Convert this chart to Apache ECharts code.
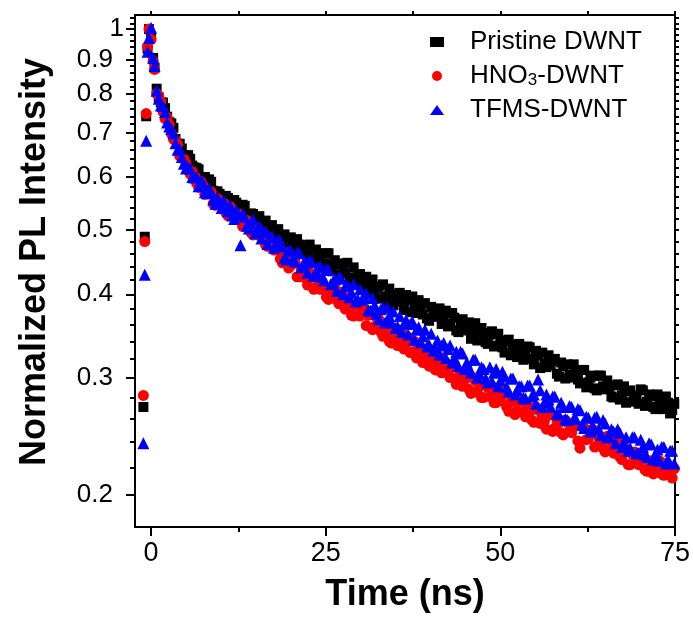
<!DOCTYPE html>
<html>
<head>
<meta charset="utf-8">
<script src="https://cdn.jsdelivr.net/npm/echarts@6/dist/echarts.min.js"></script>
<style>
html,body{margin:0;padding:0;background:#fff;}
#chart{width:693px;height:619px;}
</style>
</head>
<body>
<div id="chart"></div>
<script>
// time (ns), first sampling set
const times = [
  -1.1,-0.9,-0.7,-0.5,-0.3,0.0,0.3,0.5,
  0.8,1.4,2.0,2.6,3.2,3.8,4.4,5.0,5.6,6.2,
  6.8,7.4,8.0,8.6,9.2,9.8,10.4,11.0,11.6,12.2,
  12.8,13.4,14.0,14.6,15.2,15.8,16.4,17.0,17.6,18.2,
  18.8,19.4,20.0,20.6,21.2,21.8,22.4,23.0,23.6,24.2,
  24.8,25.4,26.0,26.6,27.2,27.8,28.4,29.0,29.6,30.2,
  30.8,31.4,32.0,32.6,33.2,33.8,34.4,35.0,35.6,36.2,
  36.8,37.4,38.0,38.6,39.2,39.8,40.4,41.0,41.6,42.2,
  42.8,43.4,44.0,44.6,45.2,45.8,46.4,47.0,47.6,48.2,
  48.8,49.4,50.0,50.6,51.2,51.8,52.4,53.0,53.6,54.2,
  54.8,55.4,56.0,56.6,57.2,57.8,58.4,59.0,59.6,60.2,
  60.8,61.4,62.0,62.6,63.2,63.8,64.4,65.0,65.6,66.2,
  66.8,67.4,68.0,68.6,69.2,69.8,70.4,71.0,71.6,72.2,
  72.8,73.4,74.0,74.6
];
const pristine = [
  0.271,0.488,0.74,0.935,1.0,0.975,0.905,0.875,
  0.814,0.776,0.761,0.725,0.711,0.673,0.662,0.641,0.639,0.620,
  0.616,0.590,0.592,0.590,0.567,0.566,0.549,0.558,0.544,0.549,
  0.530,0.543,0.525,0.528,0.506,0.515,0.516,0.495,0.496,0.501,
  0.479,0.485,0.487,0.463,0.475,0.474,0.459,0.450,0.467,0.456,
  0.445,0.461,0.433,0.444,0.445,0.430,0.420,0.439,0.425,0.411,
  0.425,0.410,0.396,0.411,0.414,0.390,0.399,0.390,0.402,0.379,
  0.392,0.397,0.375,0.379,0.388,0.365,0.379,0.373,0.361,0.378,
  0.361,0.369,0.351,0.367,0.354,0.343,0.362,0.344,0.350,0.337,
  0.352,0.335,0.341,0.327,0.342,0.336,0.322,0.333,0.323,0.333,
  0.314,0.324,0.327,0.311,0.313,0.320,0.301,0.312,0.314,0.300,
  0.306,0.294,0.308,0.295,0.302,0.287,0.302,0.288,0.290,0.280,
  0.293,0.282,0.275,0.287,0.282,0.274,0.287,0.276,0.281,0.269,
  0.280,0.269,0.275,0.268
];
const hno3 = [
  0.282,0.48,0.747,0.94,1.0,0.965,0.895,0.87,
  0.800,0.779,0.734,0.719,0.684,0.672,0.641,0.629,0.606,0.602,
  0.579,0.583,0.566,0.570,0.544,0.550,0.548,0.525,0.531,0.518,
  0.527,0.507,0.511,0.491,0.503,0.489,0.474,0.485,0.466,0.467,
  0.446,0.456,0.442,0.448,0.425,0.432,0.413,0.425,0.425,0.407,
  0.411,0.393,0.410,0.392,0.403,0.380,0.386,0.371,0.384,0.375,
  0.359,0.373,0.358,0.367,0.346,0.355,0.338,0.352,0.343,0.331,
  0.345,0.328,0.321,0.333,0.326,0.312,0.327,0.313,0.305,0.316,
  0.300,0.312,0.301,0.291,0.300,0.284,0.297,0.291,0.280,0.290,
  0.291,0.275,0.277,0.284,0.267,0.277,0.268,0.277,0.262,0.267,
  0.257,0.268,0.262,0.251,0.264,0.252,0.257,0.246,0.257,0.248,
  0.254,0.235,0.252,0.243,0.251,0.237,0.242,0.232,0.242,0.231,
  0.240,0.226,0.232,0.222,0.232,0.222,0.228,0.217,0.225,0.220,
  0.225,0.214,0.220,0.212
];
const tfms = [
  0.239,0.428,0.68,0.925,0.97,1.005,0.905,0.88,
  0.808,0.768,0.751,0.714,0.698,0.659,0.643,0.618,0.617,0.599,
  0.581,0.589,0.567,0.570,0.547,0.552,0.553,0.533,0.525,0.535,
  0.474,0.523,0.502,0.518,0.498,0.485,0.497,0.487,0.470,0.483,
  0.472,0.451,0.465,0.448,0.461,0.445,0.431,0.447,0.432,0.441,
  0.420,0.435,0.417,0.405,0.422,0.411,0.396,0.414,0.393,0.393,
  0.401,0.378,0.385,0.367,0.382,0.382,0.363,0.356,0.371,0.361,
  0.348,0.364,0.354,0.339,0.354,0.336,0.329,0.341,0.335,0.321,
  0.335,0.321,0.312,0.326,0.316,0.305,0.319,0.304,0.309,0.295,
  0.296,0.309,0.297,0.301,0.286,0.299,0.287,0.291,0.279,0.292,
  0.283,0.298,0.271,0.283,0.271,0.281,0.264,0.271,0.259,0.271,
  0.260,0.268,0.252,0.261,0.254,0.262,0.246,0.256,0.244,0.249,
  0.251,0.236,0.244,0.235,0.244,0.231,0.236,0.228,0.238,0.230,
  0.225,0.236,0.226,0.233
];
// time (ns), interleaved second sampling set
const timesB = [
  1.1,1.7,2.3,2.9,3.5,4.1,4.7,5.3,5.9,6.5,
  7.1,7.7,8.3,8.9,9.5,10.1,10.7,11.3,11.9,12.5,
  13.1,13.7,14.3,14.9,15.5,16.1,16.7,17.3,17.9,18.5,
  19.1,19.7,20.3,20.9,21.5,22.1,22.7,23.3,23.9,24.5,
  25.1,25.7,26.3,26.9,27.5,28.1,28.7,29.3,29.9,30.5,
  31.1,31.7,32.3,32.9,33.5,34.1,34.7,35.3,35.9,36.5,
  37.1,37.7,38.3,38.9,39.5,40.1,40.7,41.3,41.9,42.5,
  43.1,43.7,44.3,44.9,45.5,46.1,46.7,47.3,47.9,48.5,
  49.1,49.7,50.3,50.9,51.5,52.1,52.7,53.3,53.9,54.5,
  55.1,55.7,56.3,56.9,57.5,58.1,58.7,59.3,59.9,60.5,
  61.1,61.7,62.3,62.9,63.5,64.1,64.7,65.3,65.9,66.5,
  67.1,67.7,68.3,68.9,69.5,70.1,70.7,71.3,71.9,72.5,
  73.1,73.7,74.3,74.9
];
const pristineB = [
  0.790,0.776,0.739,0.722,0.684,0.673,0.647,0.647,0.624,0.619,
  0.594,0.600,0.595,0.572,0.571,0.552,0.562,0.547,0.554,0.533,
  0.545,0.522,0.529,0.517,0.524,0.498,0.506,0.508,0.486,0.487,
  0.492,0.468,0.478,0.484,0.463,0.465,0.475,0.451,0.461,0.441,
  0.461,0.445,0.450,0.428,0.436,0.446,0.424,0.414,0.429,0.421,
  0.406,0.421,0.409,0.394,0.397,0.408,0.385,0.401,0.391,0.399,
  0.376,0.387,0.392,0.373,0.368,0.383,0.370,0.381,0.373,0.358,
  0.375,0.353,0.363,0.353,0.363,0.354,0.341,0.356,0.339,0.348,
  0.334,0.349,0.333,0.340,0.324,0.331,0.337,0.319,0.334,0.320,
  0.329,0.310,0.315,0.324,0.318,0.304,0.316,0.299,0.303,0.314,
  0.298,0.308,0.290,0.300,0.289,0.302,0.291,0.297,0.281,0.292,
  0.278,0.291,0.286,0.276,0.278,0.288,0.272,0.283,0.271,0.283,
  0.273,0.281,0.265,0.274
];
const hno3B = [
  0.794,0.752,0.737,0.697,0.680,0.645,0.638,0.616,0.611,0.588,
  0.591,0.565,0.566,0.547,0.557,0.543,0.530,0.542,0.522,0.526,
  0.506,0.516,0.495,0.503,0.490,0.494,0.472,0.474,0.474,0.452,
  0.462,0.438,0.445,0.425,0.437,0.423,0.431,0.407,0.415,0.418,
  0.396,0.406,0.408,0.387,0.389,0.395,0.372,0.385,0.371,0.381,
  0.372,0.354,0.369,0.351,0.359,0.340,0.348,0.335,0.350,0.338,
  0.327,0.340,0.331,0.316,0.330,0.320,0.308,0.322,0.306,0.305,
  0.311,0.293,0.304,0.298,0.288,0.300,0.285,0.280,0.293,0.281,
  0.275,0.283,0.286,0.271,0.276,0.264,0.276,0.266,0.272,0.259,
  0.271,0.256,0.258,0.264,0.249,0.259,0.248,0.259,0.249,0.253,
  0.241,0.253,0.242,0.249,0.236,0.244,0.235,0.245,0.234,0.240,
  0.228,0.236,0.222,0.230,0.224,0.230,0.218,0.224,0.215,0.224,
  0.215,0.223,0.215,0.219
];
const tfmsB = [
  0.786,0.767,0.724,0.708,0.674,0.660,0.628,0.621,0.600,0.600,
  0.592,0.569,0.576,0.555,0.558,0.539,0.539,0.544,0.519,0.526,
  0.528,0.507,0.511,0.494,0.506,0.496,0.476,0.488,0.474,0.480,
  0.454,0.465,0.452,0.462,0.439,0.448,0.450,0.426,0.439,0.425,
  0.437,0.414,0.421,0.425,0.400,0.413,0.402,0.390,0.407,0.396,
  0.379,0.395,0.374,0.380,0.363,0.371,0.377,0.358,0.351,0.366,
  0.361,0.342,0.357,0.346,0.334,0.349,0.332,0.325,0.338,0.331,
  0.316,0.328,0.328,0.309,0.311,0.319,0.300,0.311,0.299,0.311,
  0.305,0.291,0.306,0.290,0.299,0.283,0.291,0.280,0.292,0.281,
  0.274,0.287,0.275,0.278,0.281,0.265,0.275,0.260,0.272,0.260,
  0.269,0.255,0.262,0.249,0.261,0.251,0.259,0.244,0.251,0.239,
  0.248,0.239,0.233,0.244,0.231,0.242,0.230,0.239,0.226,0.234,
  0.236,0.223,0.233,0.223
];
const seriesNames = ['Pristine DWNT', 'HNO3-DWNT', 'TFMS-DWNT'];
const xMajor = [0, 25, 50, 75];
const xMinor = [12.5, 37.5, 62.5];
const yLabels = [0.2, 0.3, 0.4, 0.5, 0.6, 0.7, 0.8, 0.9];
const yTop = [1];
const yMinor = [0.22,0.24,0.26,0.28,0.32,0.34,0.36,0.38,0.42,0.44,0.46,0.48,
  0.52,0.54,0.56,0.58,0.62,0.64,0.66,0.68,0.72,0.74,0.76,0.78,0.82,0.84,0.86,0.88,
  0.92,0.94,0.96,0.98,1.02,1.04];

const FONT = 'Liberation Sans';
const X_MIN = -2.3, X_MAX = 75, Y_MIN = 0.179, Y_MAX = 1.05;
const lineS = {color:'#000', width:2};
const fmtY = v => String(Math.round(v * 10) / 10);

const chart = echarts.init(document.getElementById('chart'), null, {renderer:'canvas'});
const pair = (ts, arr) => ts.map((t, i) => [t, arr[i]]);

chart.setOption({
  animation: false,
  textStyle: {fontFamily: FONT},
  grid: {left: 135, right: 16, top: 15, bottom: 92},
  legend: {
    orient: 'vertical', left: 430, top: 29, padding: 0,
    itemWidth: 14, itemHeight: 10, itemGap: 8,
    textStyle: {fontSize: 26, color: '#000', lineHeight: 26, fontFamily: FONT,
      padding: [0, 0, 0, 21],
      rich: {sub: {fontSize: 17, lineHeight: 13, verticalAlign: 'bottom', fontFamily: FONT, color: '#000'}}},
    formatter: n => n === 'HNO3-DWNT' ? 'HNO{sub|3}-DWNT' : n,
    data: seriesNames
  },
  xAxis: [
    {type: 'value', min: X_MIN, max: X_MAX, position: 'bottom',
      axisLine: {onZero: false, lineStyle: lineS},
      axisTick: {customValues: xMajor, length: 9, lineStyle: lineS},
      axisLabel: {customValues: xMajor, fontSize: 27, color: '#000', margin: 13, fontFamily: FONT},
      splitLine: {show: false},
      name: 'Time (ns)', nameLocation: 'middle', nameGap: 50,
      nameTextStyle: {fontSize: 36, fontWeight: 'bold', color: '#000', fontFamily: FONT}},
    {type: 'value', min: X_MIN, max: X_MAX, position: 'bottom',
      axisLine: {show: false, onZero: false},
      axisTick: {customValues: xMinor, length: 5, lineStyle: lineS},
      axisLabel: {show: false}, splitLine: {show: false}},
    {type: 'value', min: X_MIN, max: X_MAX, position: 'top',
      axisLine: {show: true, onZero: false, lineStyle: lineS},
      axisTick: {customValues: xMajor.concat(xMinor), length: 4, lineStyle: lineS},
      axisLabel: {show: false}, splitLine: {show: false}}
  ],
  yAxis: [
    {type: 'log', min: Y_MIN, max: Y_MAX, position: 'left',
      axisLine: {show: true, onZero: false, lineStyle: lineS},
      axisTick: {customValues: yLabels.concat(yTop), length: 9, lineStyle: lineS},
      axisLabel: {customValues: yLabels, fontSize: 26, color: '#000', margin: 22, fontFamily: FONT, formatter: fmtY},
      splitLine: {show: false},
      name: 'Normalized PL Intensity', nameLocation: 'middle', nameGap: 82, nameRotate: 90,
      nameTextStyle: {fontSize: 36, fontWeight: 'bold', color: '#000', fontFamily: FONT, padding: [0, 0, 0, 18]}},
    {type: 'log', min: Y_MIN, max: Y_MAX, position: 'left',
      axisLine: {show: false, onZero: false},
      axisTick: {customValues: yMinor, length: 5, lineStyle: lineS},
      axisLabel: {customValues: yTop, fontSize: 26, color: '#000', margin: 11, fontFamily: FONT, formatter: fmtY},
      splitLine: {show: false}},
    {type: 'log', min: Y_MIN, max: Y_MAX, position: 'right',
      axisLine: {show: true, onZero: false, lineStyle: lineS},
      axisTick: {customValues: yLabels.concat(yTop, yMinor), length: 4, lineStyle: lineS},
      axisLabel: {show: false}, splitLine: {show: false}}
  ],
  series: [
    {type: 'scatter', name: seriesNames[0], symbol: 'rect', symbolSize: 10,
      itemStyle: {color: '#000000', opacity: 1},
      data: pair(times, pristine).concat(pair(timesB, pristineB)), xAxisIndex: 0, yAxisIndex: 0},
    {type: 'scatter', name: seriesNames[1], symbol: 'circle', symbolSize: 11,
      itemStyle: {color: '#ff0000', opacity: 1},
      data: pair(times, hno3).concat(pair(timesB, hno3B)), xAxisIndex: 0, yAxisIndex: 0},
    {type: 'scatter', name: seriesNames[2], symbol: 'triangle', symbolSize: 12,
      itemStyle: {color: '#0000ff', opacity: 1},
      data: pair(times, tfms).concat(pair(timesB, tfmsB)), xAxisIndex: 0, yAxisIndex: 0}
  ]
});
</script>
</body>
</html>
